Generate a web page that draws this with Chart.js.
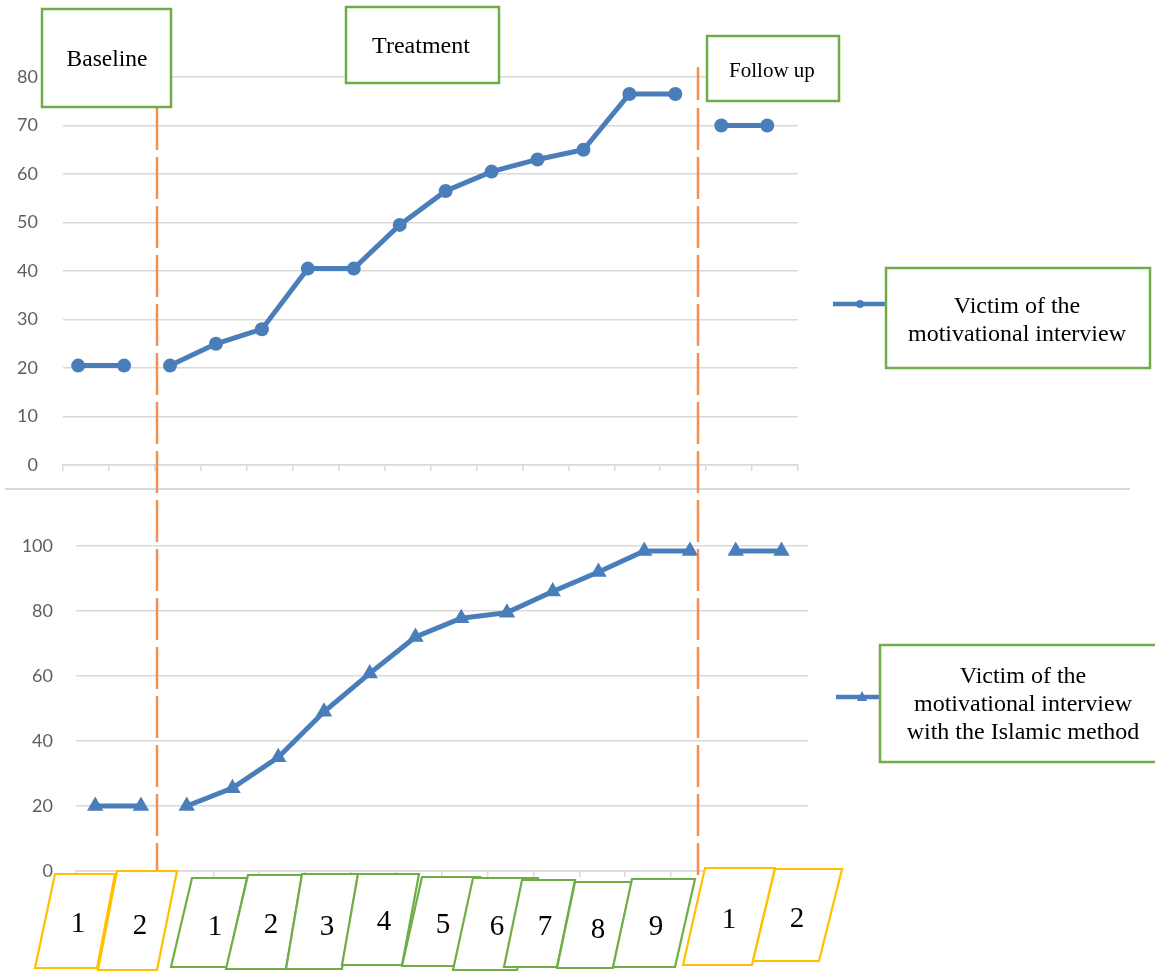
<!DOCTYPE html>
<html>
<head>
<meta charset="utf-8">
<script src="https://cdn.jsdelivr.net/npm/chart.js@4.4.1/dist/chart.umd.min.js"></script>
<style>
  html, body { margin: 0; padding: 0; background: #ffffff; }
  #wrap { position: relative; width: 1155px; height: 971px; overflow: hidden; background: #fff; }
  canvas { position: absolute; }
  #topChart { left: 0; top: 0; }
  #bottomChart { left: 0; top: 490px; }
  #overlay { position: absolute; left: 0; top: 0; pointer-events: none; }
</style>
</head>
<body>
<div id="wrap">
  <canvas id="topChart" width="810" height="510"></canvas>
  <canvas id="bottomChart" width="820" height="420"></canvas>
  <svg id="overlay" width="1155" height="971" xmlns="http://www.w3.org/2000/svg"></svg>
</div>
<script>
// ---------------- DATA ----------------
const phases = ["Baseline", "Baseline",
  "Treatment", "Treatment", "Treatment", "Treatment", "Treatment", "Treatment",
  "Treatment", "Treatment", "Treatment", "Treatment", "Treatment", "Treatment",
  "Follow up", "Follow up"];
const motivationalValues = [20.5, 20.5, 20.5, 25, 28, 40.5, 40.5, 49.5, 56.5, 60.5, 63, 65, 76.5, 76.5, 70, 70];
const islamicValues = [20, 20, 20, 25.5, 35, 49, 60.8, 72, 77.8, 79.5, 86, 92, 98.5, 98.5, 98.5, 98.5];
const topTicks = [0, 10, 20, 30, 40, 50, 60, 70, 80];
const bottomTicks = [0, 20, 40, 60, 80, 100];
const phaseBoxLabels = ["Baseline", "Treatment", "Follow up"];
const seriesNames = [["Victim of the", "motivational interview"],
  ["Victim of the", "motivational interview", "with the Islamic method"]];
const baselineSessions = ["1", "2"];
const treatmentSessions = ["1", "2", "3", "4", "5", "6", "7", "8", "9"];
const followSessions = ["1", "2"];

// ---------------- HELPERS ----------------
const BLUE = "#4a7ebb";
const GRID = "#d9d9d9";

function buildPoints(values) {
  const pts = [];
  values.forEach((v, i) => {
    if (i > 0 && phases[i] !== phases[i - 1]) pts.push({ x: i - 0.5, y: null });
    pts.push({ x: i, y: v });
  });
  return pts;
}

function makeChart(id, values, cfg) {
  const n = phases.length;
  return new Chart(document.getElementById(id), {
    type: "line",
    data: {
      datasets: [{
        data: buildPoints(values),
        borderColor: BLUE,
        backgroundColor: BLUE,
        borderWidth: 5,
        pointStyle: cfg.pointStyle,
        pointRadius: cfg.pointRadius,
        pointBorderWidth: 0,
        spanGaps: false,
        tension: 0,
        clip: false
      }]
    },
    options: {
      responsive: false,
      animation: false,
      events: [],
      layout: { padding: cfg.padding },
      plugins: { legend: { display: false }, tooltip: { enabled: false } },
      scales: {
        x: {
          type: "linear",
          min: cfg.xOffset,
          max: cfg.xOffset + n,
          afterBuildTicks: (s) => {
            s.ticks = Array.from({ length: n + 1 }, (_, k) => ({ value: cfg.xOffset + k }));
          },
          afterFit: (s) => { s.height = 6; },
          ticks: { display: false },
          grid: { drawOnChartArea: false, drawTicks: true, tickLength: 6, color: GRID, lineWidth: 1.5 },
          border: { display: true, color: GRID, width: 1.5 }
        },
        y: {
          min: cfg.ticks[0],
          max: cfg.ticks[cfg.ticks.length - 1],
          afterBuildTicks: (s) => { s.ticks = cfg.ticks.map(v => ({ value: v })); },
          afterFit: (s) => { s.width = cfg.yWidth; },
          ticks: {
            padding: cfg.labelPad,
            color: "#5f5f5f",
            font: { family: "Lato", size: 18 }
          },
          grid: { drawTicks: false, color: GRID, lineWidth: 1.5 },
          border: { display: false }
        }
      }
    }
  });
}

makeChart("topChart", motivationalValues, {
  pointStyle: "circle", pointRadius: 7, xOffset: -0.33, ticks: topTicks,
  yWidth: 63, labelPad: 25, padding: { top: 77, right: 12, bottom: 39, left: 0 }
});
makeChart("bottomChart", islamicValues, {
  pointStyle: "triangle", pointRadius: 9.5, xOffset: -0.42, ticks: bottomTicks,
  yWidth: 76, labelPad: 23, padding: { top: 56, right: 12, bottom: 33, left: 0 }
});

// ---------------- OVERLAY DECORATIONS ----------------
const svg = document.getElementById("overlay");
const NS = "http://www.w3.org/2000/svg";
function el(tag, attrs, text) {
  const e = document.createElementNS(NS, tag);
  for (const k in attrs) e.setAttribute(k, attrs[k]);
  if (text !== undefined) e.textContent = text;
  svg.appendChild(e);
  return e;
}
const SERIF = "'Liberation Serif', 'Times New Roman', serif";
const GREEN = "#70ad47";
const YELLOW = "#ffc000";
const ORANGE = "#f58f4f";

// separator between the two panels
el("line", { x1: 5, y1: 489, x2: 1130, y2: 489, stroke: GRID, "stroke-width": 2 });

// phase change dashed lines
el("line", { x1: 157, y1: 108, x2: 157, y2: 871, stroke: ORANGE, "stroke-width": 2.5, "stroke-dasharray": "42 7" });
el("line", { x1: 698, y1: 67, x2: 698, y2: 875, stroke: ORANGE, "stroke-width": 2.5, "stroke-dasharray": "33 8 42 7 42 7 42 7 42 7 42 7 42 7 42 7 42 7 42 7 42 7 42 7 42 7 42 7 42 7 42 7 42 7 42 7 42 7" });

// phase boxes
const phaseBoxLayout = [
  { x: 42, y: 9, w: 129, h: 98, tx: 107, ty: 66, size: 23.5 },
  { x: 346, y: 7, w: 153, h: 76, tx: 421, ty: 53, size: 24 },
  { x: 707, y: 36, w: 132, h: 65, tx: 772, ty: 77, size: 21 }
];
phaseBoxLabels.forEach((t, i) => {
  const b = phaseBoxLayout[i];
  el("rect", { x: b.x, y: b.y, width: b.w, height: b.h, fill: "#fff", stroke: GREEN, "stroke-width": 2.5 });
  el("text", { x: b.tx, y: b.ty, "text-anchor": "middle", "font-family": SERIF, "font-size": b.size, fill: "#000" }, t);
});

// legend boxes with markers
const legendLayout = [
  { line: [833, 886, 304], marker: "circle", mx: 860, box: [886, 268, 264, 100], tx: 1017, ty: [313, 341] },
  { line: [836, 881, 697], marker: "triangle", mx: 862, box: [880, 645, 290, 117], tx: 1023, ty: [683, 711, 739] }
];
seriesNames.forEach((lines, i) => {
  const L = legendLayout[i];
  el("line", { x1: L.line[0], y1: L.line[2], x2: L.line[1], y2: L.line[2], stroke: BLUE, "stroke-width": 4.5 });
  if (L.marker === "circle") {
    el("circle", { cx: L.mx, cy: L.line[2], r: 4, fill: BLUE });
  } else {
    const y = L.line[2];
    el("polygon", { points: `${L.mx - 5},${y + 4} ${L.mx + 5},${y + 4} ${L.mx},${y - 6}`, fill: BLUE });
  }
  el("rect", { x: L.box[0], y: L.box[1], width: L.box[2], height: L.box[3], fill: "#fff", stroke: GREEN, "stroke-width": 2.5 });
  lines.forEach((t, j) => {
    el("text", { x: L.tx, y: L.ty[j], "text-anchor": "middle", "font-family": SERIF, "font-size": 24, fill: "#000" }, t);
  });
});

// session label parallelograms: [topLeftX, topRightX, topY, bottomLeftX, bottomRightX, bottomY, textX, textY]
const sessionLayout = [
  [55, 115, 874, 35, 97, 968, 78, 932],
  [117, 177, 871, 98, 157, 970, 140, 934],
  [192, 247, 878, 171, 227, 967, 215, 935],
  [248, 302, 875, 226, 286, 969, 271, 933],
  [302, 358, 874, 286, 342, 969, 327, 935],
  [358, 419, 874, 342, 402, 965, 384, 930],
  [422, 480, 877, 402, 455, 966, 443, 933],
  [473, 538, 878, 453, 517, 970, 497, 935],
  [522, 575, 880, 504, 557, 967, 545, 935],
  [575, 632, 882, 557, 613, 968, 598, 938],
  [632, 695, 879, 613, 675, 967, 656, 935],
  [705, 775, 868, 683, 752, 965, 729, 928],
  [775, 842, 869, 753, 819, 961, 797, 927]
];
const sessionLabels = [
  ...baselineSessions.map(t => ({ t, c: YELLOW })),
  ...treatmentSessions.map(t => ({ t, c: GREEN })),
  ...followSessions.map(t => ({ t, c: YELLOW }))
];
sessionLabels.forEach((s, i) => {
  const g = sessionLayout[i];
  el("polygon", {
    points: `${g[0]},${g[2]} ${g[1]},${g[2]} ${g[4]},${g[5]} ${g[3]},${g[5]}`,
    fill: "#fff", stroke: s.c, "stroke-width": 2.2
  });
  el("text", { x: g[6], y: g[7], "text-anchor": "middle", "font-family": SERIF, "font-size": 29, fill: "#000" }, s.t);
});
</script>
</body>
</html>
